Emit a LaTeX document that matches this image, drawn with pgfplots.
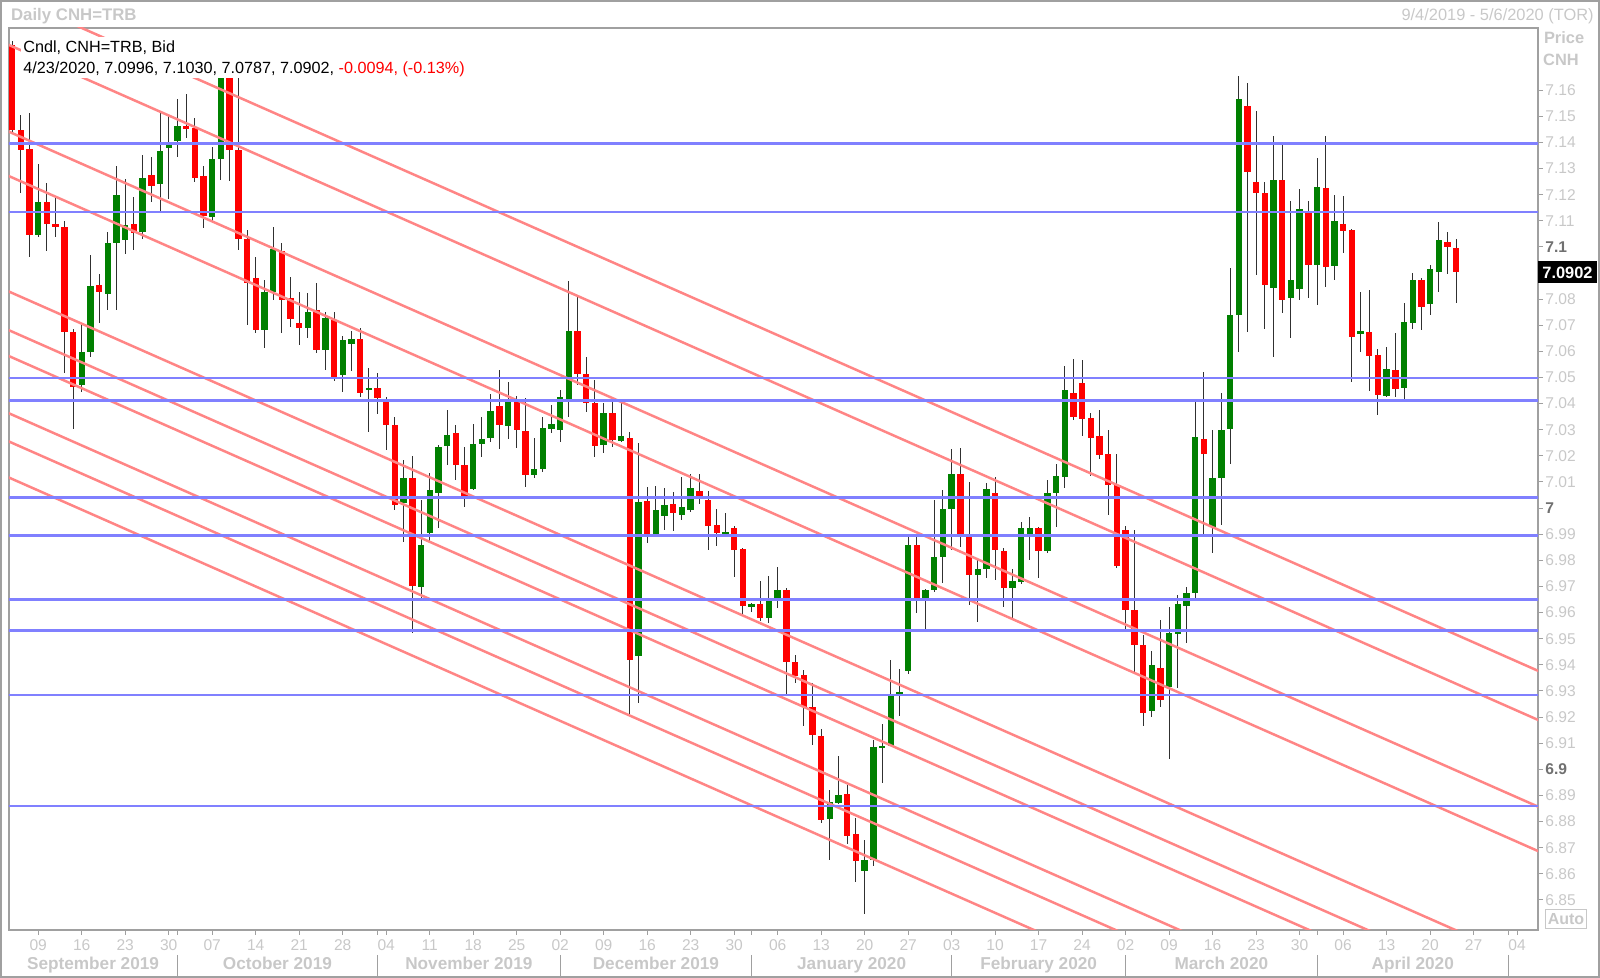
\documentclass[border=0pt]{standalone}
\usepackage{pgfplots}
\pgfplotsset{compat=1.18}
\usepackage{pgfplotstable}
\usepackage{fontspec}
\setmainfont{Liberation Sans}
\definecolor{cred}{HTML}{FF0000}
\definecolor{cgreen}{HTML}{008000}
\definecolor{wick}{HTML}{303030}
\definecolor{hblue}{HTML}{8080FF}
\definecolor{dpink}{HTML}{FF8585}
\definecolor{lbl}{HTML}{C8C8C8}
\definecolor{lbldark}{HTML}{707070}
\definecolor{axgray}{HTML}{A0A0A0}
\newcommand\bt[1]{\textcolor{lbldark}{\bfseries #1}}

\pgfplotstableread{
i O H L C
2 7.1773 7.1790 7.1440 7.1448
3 7.1448 7.1505 7.1208 7.1371
4 7.1375 7.1514 7.0961 7.1046
5 7.1046 7.1320 7.1040 7.1174
6 7.1171 7.1247 7.0986 7.1088
7 7.1088 7.1193 7.1037 7.1076
8 7.1078 7.1100 7.0519 7.0676
9 7.0676 7.0685 7.0302 7.0463
10 7.0472 7.0702 7.0446 7.0600
11 7.0600 7.0970 7.0580 7.0851
12 7.0855 7.0899 7.0711 7.0829
13 7.0820 7.1059 7.0759 7.1014
14 7.1017 7.1312 7.0759 7.1199
15 7.1027 7.1263 7.0976 7.1084
16 7.1088 7.1193 7.0989 7.1053
17 7.1057 7.1350 7.1030 7.1263
18 7.1276 7.1346 7.1174 7.1235
19 7.1241 7.1512 7.1136 7.1369
20 7.1378 7.1505 7.1183 7.1403
21 7.1407 7.1565 7.1346 7.1461
22 7.1465 7.1588 7.1416 7.1451
23 7.1455 7.1493 7.1247 7.1266
24 7.1270 7.1312 7.1072 7.1119
25 7.1114 7.1384 7.1100 7.1336
26 7.1336 7.1760 7.1257 7.1700
27 7.1700 7.1770 7.1253 7.1372
28 7.1372 7.1700 7.0989 7.1030
29 7.1030 7.1065 7.0700 7.0864
30 7.0880 7.0960 7.0670 7.0682
31 7.0682 7.0874 7.0612 7.0829
32 7.0829 7.1078 7.0797 7.0995
33 7.0982 7.1014 7.0670 7.0797
34 7.0804 7.0887 7.0695 7.0727
35 7.0710 7.0829 7.0625 7.0689
36 7.0689 7.0825 7.0650 7.0753
37 7.0759 7.0861 7.0593 7.0606
38 7.0606 7.0753 7.0529 7.0727
39 7.0721 7.0753 7.0490 7.0504
40 7.0510 7.0659 7.0446 7.0644
41 7.0631 7.0676 7.0523 7.0650
42 7.0650 7.0689 7.0427 7.0440
43 7.0454 7.0536 7.0293 7.0459
44 7.0459 7.0517 7.0363 7.0421
45 7.0417 7.0425 7.0223 7.0319
46 7.0319 7.0351 6.9993 7.0012
47 7.0019 7.0185 6.9872 7.0115
48 7.0115 7.0200 6.9523 6.9702
49 6.9700 7.0032 6.9655 6.9859
50 6.9904 7.0134 6.9866 7.0070
51 7.0057 7.0242 6.9923 7.0236
52 7.0236 7.0376 7.0165 7.0280
53 7.0289 7.0319 7.0108 7.0165
54 7.0165 7.0236 7.0006 7.0044
55 7.0076 7.0323 7.0070 7.0246
56 7.0248 7.0351 7.0197 7.0264
57 7.0268 7.0440 7.0255 7.0370
58 7.0392 7.0529 7.0229 7.0319
59 7.0315 7.0485 7.0264 7.0415
60 7.0417 7.0430 7.0230 7.0300
61 7.0297 7.0421 7.0082 7.0128
62 7.0125 7.0268 7.0118 7.0149
63 7.0153 7.0351 7.0140 7.0310
64 7.0302 7.0395 7.0287 7.0323
65 7.0300 7.0455 7.0255 7.0425
66 7.0415 7.0870 7.0351 7.0680
67 7.0680 7.0810 7.0472 7.0514
68 7.0514 7.0581 7.0370 7.0402
69 7.0402 7.0491 7.0195 7.0239
70 7.0242 7.0405 7.0213 7.0364
71 7.0364 7.0405 7.0233 7.0262
72 7.0259 7.0405 7.0255 7.0277
73 7.0268 7.0290 6.9209 6.9417
74 6.9436 7.0249 6.9254 7.0026
75 7.0028 7.0083 6.9866 6.9898
76 6.9898 7.0086 6.9892 6.9994
77 6.9972 7.0077 6.9917 7.0013
78 7.0017 7.0064 6.9911 6.9981
79 6.9975 7.0121 6.9956 7.0004
80 6.9994 7.0134 6.9987 7.0077
81 7.0068 7.0134 7.0017 7.0047
82 7.0032 7.0064 6.9838 6.9933
83 6.9936 6.9999 6.9856 6.9904
84 6.9903 6.9983 6.9889 6.9909
85 6.9924 6.9933 6.9736 6.9841
86 6.9843 6.9847 6.9596 6.9626
87 6.9623 6.9640 6.9605 6.9634
88 6.9634 6.9720 6.9566 6.9579
89 6.9579 6.9741 6.9560 6.9656
90 6.9656 6.9774 6.9618 6.9688
91 6.9688 6.9694 6.9286 6.9411
92 6.9411 6.9440 6.9331 6.9356
93 6.9362 6.9382 6.9165 6.9241
94 6.9237 6.9331 6.9095 6.9133
95 6.9129 6.9154 6.8795 6.8805
96 6.8811 6.8922 6.8652 6.8874
97 6.8874 6.9050 6.8865 6.8903
98 6.8909 6.8941 6.8716 6.8746
99 6.8753 6.8814 6.8571 6.8648
100 6.8610 6.8731 6.8448 6.8654
101 6.8652 6.9114 6.8631 6.9086
102 6.9082 6.9175 6.8950 6.9089
103 6.9091 6.9420 6.9088 6.9282
104 6.9289 6.9384 6.9205 6.9296
105 6.9378 6.9898 6.9365 6.9860
106 6.9860 6.9898 6.9600 6.9649
107 6.9653 6.9693 6.9528 6.9686
108 6.9686 7.0032 6.9680 6.9815
109 6.9815 7.0071 6.9713 6.9996
110 6.9999 7.0226 6.9841 7.0132
111 7.0132 7.0230 6.9853 6.9894
112 6.9898 7.0102 6.9630 6.9745
113 6.9745 6.9803 6.9566 6.9767
114 6.9767 7.0096 6.9732 7.0073
115 7.0060 7.0121 6.9726 6.9841
116 6.9838 6.9847 6.9624 6.9694
117 6.9694 6.9767 6.9575 6.9723
118 6.9716 6.9949 6.9710 6.9924
119 6.9889 6.9968 6.9802 6.9926
120 6.9924 6.9930 6.9732 6.9838
121 6.9838 7.0108 6.9828 7.0060
122 7.0060 7.0170 6.9930 7.0124
123 7.0121 7.0545 7.0077 7.0455
124 7.0440 7.0570 7.0338 7.0351
125 7.0478 7.0565 7.0274 7.0341
126 7.0345 7.0364 7.0124 7.0268
127 7.0277 7.0377 7.0188 7.0204
128 7.0208 7.0300 6.9975 7.0089
129 7.0089 7.0208 6.9770 6.9777
130 6.9917 6.9930 6.9530 6.9611
131 6.9611 6.9917 6.9369 6.9477
132 6.9477 6.9515 6.9167 6.9218
133 6.9222 6.9455 6.9203 6.9398
134 6.9390 6.9573 6.9239 6.9267
135 6.9318 6.9624 6.9040 6.9524
136 6.9519 6.9668 6.9311 6.9634
137 6.9626 6.9700 6.9484 6.9677
138 6.9677 7.0417 6.9649 7.0274
139 7.0264 7.0523 6.9892 7.0208
140 6.9930 7.0300 6.9828 7.0115
141 7.0115 7.0440 6.9936 7.0302
142 7.0302 7.0919 7.0172 7.0740
143 7.0740 7.1655 7.0600 7.1567
144 7.1540 7.1629 7.0676 7.1289
145 7.1250 7.1521 7.0893 7.1206
146 7.1208 7.1250 7.0685 7.0855
147 7.0842 7.1425 7.0581 7.1257
148 7.1257 7.1391 7.0746 7.0797
149 7.0804 7.1178 7.0654 7.0876
150 7.0840 7.1225 7.0800 7.1144
151 7.1129 7.1178 7.0804 7.0931
152 7.0934 7.1340 7.0778 7.1229
153 7.1225 7.1425 7.0848 7.0925
154 7.0925 7.1199 7.0874 7.1101
155 7.1088 7.1195 7.0976 7.1063
156 7.1065 7.1070 7.0485 7.0657
157 7.0667 7.0829 7.0600 7.0678
158 7.0676 7.0836 7.0450 7.0583
159 7.0587 7.0612 7.0357 7.0434
160 7.0430 7.0619 7.0427 7.0532
161 7.0532 7.0672 7.0427 7.0459
162 7.0459 7.0785 7.0420 7.0714
163 7.0711 7.0900 7.0689 7.0874
164 7.0874 7.0880 7.0683 7.0772
165 7.0782 7.0931 7.0740 7.0915
166 7.0906 7.1097 7.0826 7.1027
167 7.1018 7.1057 7.0897 7.0999
168 7.0996 7.1030 7.0787 7.0902
}\candles

\pgfplotsset{candle/.style={only marks, mark size=0pt, mark options={draw=none, fill=none}, forget plot,
  error bars/.cd, y dir=both, y explicit, error mark=none}}

\begin{document}
\begin{tikzpicture}
\begin{axis}[
  name=ax,
  scale only axis,
  width=764.5pt, height=451pt,
  xmin=1.64, xmax=177.4,
  ymin=6.8385, ymax=7.1838,
  axis line style={draw=axgray, line width=0.6pt},
  xtick pos=bottom, ytick pos=right, yticklabel pos=right,
  tick align=outside,
  major tick length=2.5pt,
  tick style={draw=axgray, line width=0.5pt},
  xtick={5,10,...,175},
  xticklabels={09,16,23,30,07,14,21,28,04,11,18,25,02,09,16,23,30,06,13,20,27,03,10,17,24,02,09,16,23,30,06,13,20,27,04},
  extra x ticks={21,44,65,87,110,130,152,174},
  extra x tick labels={},
  ytick={6.85,6.86,6.87,6.88,6.89,6.9,6.91,6.92,6.93,6.94,6.95,6.96,6.97,6.98,6.99,7,7.01,7.02,7.03,7.04,7.05,7.06,7.07,7.08,7.09,7.1,7.11,7.12,7.13,7.14,7.15,7.16},
  yticklabels={6.85,6.86,6.87,6.88,6.89,\bt{6.9},6.91,6.92,6.93,6.94,6.95,6.96,6.97,6.98,6.99,\bt{7},7.01,7.02,7.03,7.04,7.05,7.06,7.07,7.08,{},\bt{7.1},7.11,7.12,7.13,7.14,7.15,7.16},
  scaled y ticks=false,
  tick label style={font=\fontsize{7.8}{9}\selectfont, text=lbl},
  xticklabel style={inner sep=0pt, anchor=north, yshift=-2.2pt},
  yticklabel style={inner sep=0pt, anchor=west, xshift=1pt},
]
% wicks
\addplot[candle, error bar style={draw=wick, line width=0.5pt}]
  table[x=i, y expr={(\thisrow{H}+\thisrow{L})/2}, y error expr={(\thisrow{H}-\thisrow{L})/2}]{\candles};
% red bodies
\addplot[restrict expr to domain={\thisrow{O}-\thisrow{C}}{0:1}, candle, error bar style={draw=cred, line width=3.2pt}]
  table[x=i, y expr={(\thisrow{O}+\thisrow{C})/2}, y error expr={abs(\thisrow{O}-\thisrow{C})/2}]{\candles};
% green bodies
\addplot[restrict expr to domain={\thisrow{C}-\thisrow{O}}{0:1}, candle, error bar style={draw=cgreen, line width=3.2pt}]
  table[x=i, y expr={(\thisrow{O}+\thisrow{C})/2}, y error expr={abs(\thisrow{O}-\thisrow{C})/2}]{\candles};
% descending channel lines
\addplot[dpink, line width=1.25pt, forget plot] coordinates {(0,7.1985) (180,6.9339)};
\addplot[dpink, line width=1.25pt, forget plot] coordinates {(0,7.1797) (180,6.9151)};
\addplot[dpink, line width=1.25pt, forget plot] coordinates {(0,7.1465) (180,6.8819)};
\addplot[dpink, line width=1.25pt, forget plot] coordinates {(0,7.1295) (180,6.8649)};
\addplot[dpink, line width=1.25pt, forget plot] coordinates {(0,7.0853) (180,6.8207)};
\addplot[dpink, line width=1.25pt, forget plot] coordinates {(0,7.0705) (180,6.8059)};
\addplot[dpink, line width=1.25pt, forget plot] coordinates {(0,7.0606) (180,6.7960)};
\addplot[dpink, line width=1.25pt, forget plot] coordinates {(0,7.0387) (180,6.7741)};
\addplot[dpink, line width=1.25pt, forget plot] coordinates {(0,7.0279) (180,6.7633)};
\addplot[dpink, line width=1.25pt, forget plot] coordinates {(0,7.0141) (180,6.7495)};
% horizontal levels
\addplot[hblue, line width=1.35pt, forget plot] coordinates {(0,7.1396) (180,7.1396)};
\addplot[hblue, line width=1.35pt, forget plot] coordinates {(0,7.1133) (180,7.1133)};
\addplot[hblue, line width=1.35pt, forget plot] coordinates {(0,7.0498) (180,7.0498)};
\addplot[hblue, line width=1.35pt, forget plot] coordinates {(0,7.0412) (180,7.0412)};
\addplot[hblue, line width=1.35pt, forget plot] coordinates {(0,7.0040) (180,7.0040)};
\addplot[hblue, line width=1.35pt, forget plot] coordinates {(0,6.9894) (180,6.9894)};
\addplot[hblue, line width=1.35pt, forget plot] coordinates {(0,6.9651) (180,6.9651)};
\addplot[hblue, line width=1.35pt, forget plot] coordinates {(0,6.9531) (180,6.9531)};
\addplot[hblue, line width=1.35pt, forget plot] coordinates {(0,6.9285) (180,6.9285)};
\addplot[hblue, line width=1.35pt, forget plot] coordinates {(0,6.8860) (180,6.8860)};
% anchors for annotations
\coordinate (pr) at (axis cs:177.4,7.0902);
\coordinate (m1) at (axis cs:11.3,6.8385);
\coordinate (m2) at (axis cs:32.5,6.8385);
\coordinate (m3) at (axis cs:54.5,6.8385);
\coordinate (m4) at (axis cs:76,6.8385);
\coordinate (m5) at (axis cs:98.5,6.8385);
\coordinate (m6) at (axis cs:120,6.8385);
\coordinate (m7) at (axis cs:141,6.8385);
\coordinate (m8) at (axis cs:163,6.8385);
\coordinate (s1) at (axis cs:21,6.8385);
\coordinate (s2) at (axis cs:44,6.8385);
\coordinate (s3) at (axis cs:65,6.8385);
\coordinate (s4) at (axis cs:87,6.8385);
\coordinate (s5) at (axis cs:110,6.8385);
\coordinate (s6) at (axis cs:130,6.8385);
\coordinate (s7) at (axis cs:152,6.8385);
\coordinate (s8) at (axis cs:174,6.8385);
\end{axis}
\pgfresetboundingbox
\path[use as bounding box] ([shift={(-4.5pt,-24pt)}]ax.south west) rectangle ([shift={(31pt,14pt)}]ax.north east);
% legend box
\fill[white] ([shift={(6pt,-4.5pt)}]ax.north west) rectangle ([shift={(227.5pt,-25pt)}]ax.north west);
\node[anchor=base west, inner sep=0pt, font=\fontsize{8.1}{9}\selectfont] at ([shift={(7pt,-12.15pt)}]ax.north west) {Cndl, CNH=TRB, Bid};
\node[anchor=base west, inner sep=0pt, font=\fontsize{8.1}{9}\selectfont] at ([shift={(7pt,-22.65pt)}]ax.north west) {4/23/2020, 7.0996, 7.1030, 7.0787, 7.0902, \textcolor{cred}{-0.0094, (-0.13\%)}};
% title row
\node[anchor=base west, inner sep=0pt, text=lbl, font=\bfseries\fontsize{8.4}{9}\selectfont] at ([shift={(0.85pt,3.65pt)}]ax.north west) {Daily CNH=TRB};
\node[anchor=base east, inner sep=0pt, text=lbl, font=\fontsize{8.2}{9}\selectfont] at ([shift={(28pt,3.65pt)}]ax.north east) {9/4/2019 - 5/6/2020 (TOR)};
% price axis header
\node[anchor=base west, inner sep=0pt, text=lbl, font=\bfseries\fontsize{8.2}{9}\selectfont] at ([shift={(2.8pt,-8pt)}]ax.north east) {Price};
\node[anchor=base west, inner sep=0pt, text=lbl, font=\bfseries\fontsize{8.2}{9}\selectfont] at ([shift={(2.4pt,-18.85pt)}]ax.north east) {CNH};
% current price tag
\node[anchor=west, fill=black, text=white, inner xsep=2pt, inner ysep=0pt, minimum height=11pt, font=\bfseries\fontsize{8.2}{9}\selectfont] at (pr) {7.0902};
% Auto box
\node[anchor=south west, draw=lbl, line width=0.5pt, text=lbl, inner sep=0pt, minimum width=20.5pt, minimum height=9.5pt, font=\bfseries\fontsize{8}{9}\selectfont] at ([shift={(3.5pt,0.5pt)}]ax.south east) {Auto};
% month labels
\foreach \m/\t in {m1/September 2019, m2/October 2019, m3/November 2019, m4/December 2019, m5/January 2020, m6/February 2020, m7/March 2020, m8/April 2020}
  \node[anchor=base, inner sep=0pt, text=lbl, font=\bfseries\fontsize{8.6}{9}\selectfont] at ([yshift=-20pt]\m) {\t};
\foreach \s in {s1,s2,s3,s4,s5,s6,s7,s8}
  \draw[axgray, line width=0.5pt] ([yshift=-12.5pt]\s) -- ([yshift=-23pt]\s);
% outer frame
\draw[axgray, line width=1pt] ([shift={(-4pt,-23.5pt)}]ax.south west) rectangle ([shift={(30.5pt,13.5pt)}]ax.north east);
\end{tikzpicture}
\end{document}
